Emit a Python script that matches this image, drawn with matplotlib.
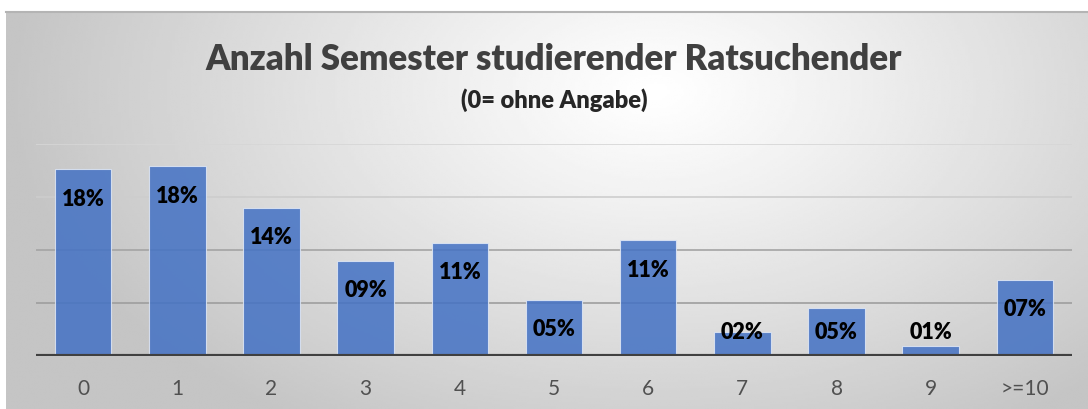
import numpy as np
import matplotlib.pyplot as plt

# Daten (Anteile in Prozent)
semester = ['0', '1', '2', '3', '4', '5', '6', '7', '8', '9', '>=10']
anteil = [17.6, 17.9, 14.0, 9.0, 10.7, 5.3, 10.9, 2.3, 4.5, 0.9, 7.2]
labels = ['18%', '18%', '14%', '09%', '11%', '05%', '11%', '02%', '05%', '01%', '07%']

plt.rcParams['font.family'] = ['Lato', 'DejaVu Sans']

W, H = 1088, 410
fig = plt.figure(figsize=(W / 100, H / 100), dpi=100)
fig.patch.set_facecolor('white')

# Hintergrund mit radialem Verlauf
bg = fig.add_axes([6 / W, 0, 1 - 6 / W, (H - 13) / H])
gx, gy = np.meshgrid(np.linspace(0, 1, 400), np.linspace(0, 1, 200))
d = np.sqrt(((gx - 0.6) / 0.6) ** 2 + ((gy - 0.2) / 1.0) ** 2)
grad = 1.0 - 0.23 * np.clip(d, 0, 1) ** 1.1
bg.imshow(grad, cmap='gray', vmin=0, vmax=1, aspect='auto',
          extent=[0, 1, 1, 0], interpolation='bilinear')
bg.set_xlim(0, 1)
bg.set_ylim(1, 0)
bg.axis('off')
fig.add_artist(plt.Line2D([6 / W, 1], [(H - 13) / H] * 2, color='#b4b4b4', lw=1.5))

# Diagramm
ax = fig.add_axes([36 / W, (H - 357) / H, 1036 / W, 212 / H])
ax.patch.set_alpha(0)
x = np.arange(len(semester))

grid_cols = {5: '#9e9e9e', 10: '#a4a4a4', 15: '#cdcdcd', 20: '#d6d6d6'}
for yv, c in grid_cols.items():
    ax.axhline(yv, color=c, lw=1.2, zorder=1)

ax.bar(x, anteil, width=0.6, color='#4472C4', alpha=0.86,
       edgecolor='#dfe7f5', linewidth=0.8, zorder=2)
ax.axhline(0, color='#404040', lw=3.0, zorder=3)

for xi, v, lab in zip(x, anteil, labels):
    ax.text(xi, max(v - 2.75, 2.35), lab, ha='center', va='center',
            fontsize=15.5, fontweight='heavy', color='black', zorder=4)

ax.set_xlim(-0.5, len(semester) - 0.5)
ax.set_ylim(0, 20)
ax.set_xticks(x)
ax.set_xticklabels(semester, fontsize=15, color='#505050')
ax.set_yticks([])
ax.tick_params(axis='x', length=0, pad=16)
for s in ax.spines.values():
    s.set_visible(False)

fig.text(554 / W, 1 - 60 / H, 'Anzahl Semester studierender Ratsuchender',
         ha='center', va='center', fontsize=25, fontweight='heavy', color='#404040')
fig.text(554 / W, 1 - 100 / H, '(0= ohne Angabe)',
         ha='center', va='center', fontsize=17, fontweight='heavy', color='#262626')

fig.savefig('out.png', dpi=100)
